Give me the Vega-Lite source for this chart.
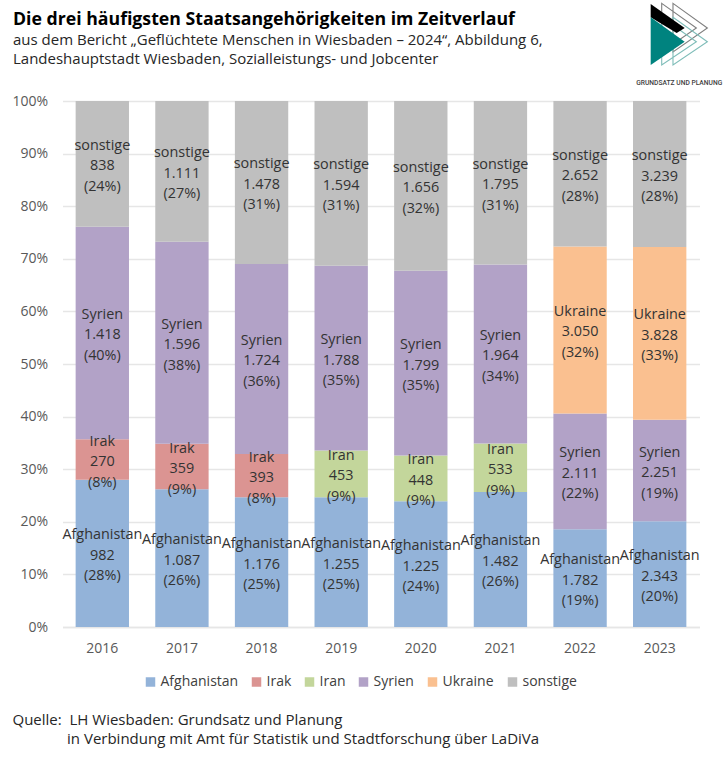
{
  "$schema": "https://vega.github.io/schema/vega-lite/v6.json",
  "description": "Die drei häufigsten Staatsangehörigkeiten im Zeitverlauf",
  "width": 637,
  "height": 526,
  "autosize": "none",
  "padding": {"left": 62.5, "top": 101, "right": 25.5, "bottom": 131},
  "background": "white",
  "config": {
    "view": {"stroke": null},
    "font": "Open Sans"
  },
  "title": {
    "text": "Die drei häufigsten Staatsangehörigkeiten im Zeitverlauf",
    "subtitle": [
      "aus dem Bericht „Geflüchtete Menschen in Wiesbaden – 2024“, Abbildung 6,",
      "Landeshauptstadt Wiesbaden, Sozialleistungs- und Jobcenter"
    ],
    "anchor": "start",
    "frame": "group",
    "dx": -49.5,
    "offset": -66,
    "font": "Open Sans",
    "fontSize": 17.7,
    "fontWeight": "bold",
    "color": "#000000",
    "subtitleFont": "Open Sans",
    "subtitleFontSize": 15,
    "subtitleColor": "#262626",
    "subtitleLineHeight": 19,
    "subtitlePadding": 4
  },
  "data": {
    "values": [
      {"jahr": "2016", "gruppe": "Afghanistan", "wert": 982, "text": "Afghanistan\n982\n(28%)"},
      {"jahr": "2016", "gruppe": "Irak", "wert": 270, "text": "Irak\n270\n(8%)"},
      {"jahr": "2016", "gruppe": "Syrien", "wert": 1418, "text": "Syrien\n1.418\n(40%)"},
      {"jahr": "2016", "gruppe": "sonstige", "wert": 838, "text": "sonstige\n838\n(24%)"},
      {"jahr": "2017", "gruppe": "Afghanistan", "wert": 1087, "text": "Afghanistan\n1.087\n(26%)"},
      {"jahr": "2017", "gruppe": "Irak", "wert": 359, "text": "Irak\n359\n(9%)"},
      {"jahr": "2017", "gruppe": "Syrien", "wert": 1596, "text": "Syrien\n1.596\n(38%)"},
      {"jahr": "2017", "gruppe": "sonstige", "wert": 1111, "text": "sonstige\n1.111\n(27%)"},
      {"jahr": "2018", "gruppe": "Afghanistan", "wert": 1176, "text": "Afghanistan\n1.176\n(25%)"},
      {"jahr": "2018", "gruppe": "Irak", "wert": 393, "text": "Irak\n393\n(8%)"},
      {"jahr": "2018", "gruppe": "Syrien", "wert": 1724, "text": "Syrien\n1.724\n(36%)"},
      {"jahr": "2018", "gruppe": "sonstige", "wert": 1478, "text": "sonstige\n1.478\n(31%)"},
      {"jahr": "2019", "gruppe": "Afghanistan", "wert": 1255, "text": "Afghanistan\n1.255\n(25%)"},
      {"jahr": "2019", "gruppe": "Iran", "wert": 453, "text": "Iran\n453\n(9%)"},
      {"jahr": "2019", "gruppe": "Syrien", "wert": 1788, "text": "Syrien\n1.788\n(35%)"},
      {"jahr": "2019", "gruppe": "sonstige", "wert": 1594, "text": "sonstige\n1.594\n(31%)"},
      {"jahr": "2020", "gruppe": "Afghanistan", "wert": 1225, "text": "Afghanistan\n1.225\n(24%)"},
      {"jahr": "2020", "gruppe": "Iran", "wert": 448, "text": "Iran\n448\n(9%)"},
      {"jahr": "2020", "gruppe": "Syrien", "wert": 1799, "text": "Syrien\n1.799\n(35%)"},
      {"jahr": "2020", "gruppe": "sonstige", "wert": 1656, "text": "sonstige\n1.656\n(32%)"},
      {"jahr": "2021", "gruppe": "Afghanistan", "wert": 1482, "text": "Afghanistan\n1.482\n(26%)"},
      {"jahr": "2021", "gruppe": "Iran", "wert": 533, "text": "Iran\n533\n(9%)"},
      {"jahr": "2021", "gruppe": "Syrien", "wert": 1964, "text": "Syrien\n1.964\n(34%)"},
      {"jahr": "2021", "gruppe": "sonstige", "wert": 1795, "text": "sonstige\n1.795\n(31%)"},
      {"jahr": "2022", "gruppe": "Afghanistan", "wert": 1782, "text": "Afghanistan\n1.782\n(19%)"},
      {"jahr": "2022", "gruppe": "Syrien", "wert": 2111, "text": "Syrien\n2.111\n(22%)"},
      {"jahr": "2022", "gruppe": "Ukraine", "wert": 3050, "text": "Ukraine\n3.050\n(32%)"},
      {"jahr": "2022", "gruppe": "sonstige", "wert": 2652, "text": "sonstige\n2.652\n(28%)"},
      {"jahr": "2023", "gruppe": "Afghanistan", "wert": 2343, "text": "Afghanistan\n2.343\n(20%)"},
      {"jahr": "2023", "gruppe": "Syrien", "wert": 2251, "text": "Syrien\n2.251\n(19%)"},
      {"jahr": "2023", "gruppe": "Ukraine", "wert": 3828, "text": "Ukraine\n3.828\n(33%)"},
      {"jahr": "2023", "gruppe": "sonstige", "wert": 3239, "text": "sonstige\n3.239\n(28%)"}
    ]
  },
  "encoding": {
    "x": {
      "field": "jahr",
      "type": "ordinal",
      "scale": {"paddingInner": 0.33, "paddingOuter": 0.165},
      "axis": {
        "labelAngle": 0,
        "labelFontSize": 14,
        "labelColor": "#595959",
        "labelPadding": 14,
        "domainColor": "#E6E6E6",
        "domainWidth": 1.5,
        "ticks": false,
        "title": [
          "Quelle:\u00a0\u00a0LH Wiesbaden: Grundsatz und Planung",
          "\u200b\u00a0\u00a0\u00a0\u00a0\u00a0\u00a0\u00a0\u00a0\u00a0\u00a0\u00a0\u00a0\u00a0\u00a0in Verbindung mit Amt für Statistik und Stadtforschung über LaDiVa"
        ],
        "titleX": -50.5,
        "titleY": 97,
        "titleAlign": "left",
        "titleAnchor": "start",
        "titleBaseline": "alphabetic",
        "titleFontSize": 15,
        "titleFontWeight": "normal",
        "titleColor": "#262626",
        "titleLineHeight": 19
      }
    }
  },
  "layer": [
    {
      "mark": {"type": "bar"},
      "encoding": {
        "y": {
          "field": "wert",
          "type": "quantitative",
          "stack": "normalize",
          "scale": {"domain": [0, 1], "nice": false},
          "axis": {
            "format": ".0%",
            "values": [0, 0.1, 0.2, 0.3, 0.4, 0.5, 0.6, 0.7, 0.8, 0.9, 1],
            "title": null,
            "domain": false,
            "ticks": false,
            "gridColor": "#E6E6E6",
            "gridWidth": 1.5,
            "labelFontSize": 14,
            "labelColor": "#595959",
            "labelPadding": 15
          }
        },
        "color": {
          "field": "gruppe",
          "type": "nominal",
          "scale": {
            "domain": ["Afghanistan", "Irak", "Iran", "Syrien", "Ukraine", "sonstige"],
            "range": ["#93B3D9", "#DB9492", "#C3D69B", "#B2A2C7", "#FAC090", "#BFBFBF"]
          },
          "legend": {
            "title": null,
            "orient": "none",
            "direction": "horizontal",
            "columns": 6,
            "legendX": 81,
            "legendY": 574,
            "symbolType": "square",
            "symbolSize": 90,
            "symbolStrokeWidth": 0,
            "labelFontSize": 14,
            "labelColor": "#404040",
            "labelOffset": 3,
            "columnPadding": 11
          }
        },
        "order": {"field": "gruppe"}
      }
    },
    {
      "mark": {"type": "text", "lineBreak": "\n", "lineHeight": 20.5, "fontSize": 14.4, "color": "#333333", "baseline": "middle", "dy": -18},
      "encoding": {
        "y": {"field": "wert", "type": "quantitative", "stack": "normalize", "bandPosition": 0.5},
        "text": {"field": "text", "type": "nominal"},
        "order": {"field": "gruppe"}
      }
    },
    {
      "data": {"values": [{}]},
      "mark": {
        "type": "point",
        "shape": "M-.545 -.945L.506 -.197L-.545 .53ZM-.203 -.945L.839 -.197L-.203 .53Z",
        "size": 4356,
        "filled": false,
        "stroke": "#7F7F7F",
        "strokeWidth": 1.1,
        "opacity": 1,
        "xOffset": 20
      },
      "encoding": {
        "x": {"datum": "2023", "type": "ordinal"},
        "y": {"datum": 1.1264, "type": "quantitative"}
      }
    },
    {
      "data": {"values": [{}]},
      "mark": {
        "type": "point",
        "shape": "M-.545 -.521L.506 .218L-.545 .924ZM-.203 -.521L.839 .218L-.203 .924Z",
        "size": 4356,
        "filled": false,
        "stroke": "#7FBDB9",
        "strokeWidth": 1.1,
        "opacity": 1,
        "xOffset": 20
      },
      "encoding": {
        "x": {"datum": "2023", "type": "ordinal"},
        "y": {"datum": 1.1264, "type": "quantitative"}
      }
    },
    {
      "data": {"values": [{}]},
      "mark": {
        "type": "point",
        "shape": "M-.879 -.924L.152 -.197L-.091 -.045L-.879 -.521Z",
        "size": 4356,
        "filled": true,
        "fill": "#000000",
        "opacity": 1,
        "xOffset": 20
      },
      "encoding": {
        "x": {"datum": "2023", "type": "ordinal"},
        "y": {"datum": 1.1264, "type": "quantitative"}
      }
    },
    {
      "data": {"values": [{}]},
      "mark": {
        "type": "point",
        "shape": "M-.879 -.521L.152 .218L-.879 .924Z",
        "size": 4356,
        "filled": true,
        "fill": "#00837F",
        "opacity": 1,
        "xOffset": 20
      },
      "encoding": {
        "x": {"datum": "2023", "type": "ordinal"},
        "y": {"datum": 1.1264, "type": "quantitative"}
      }
    },
    {
      "data": {"values": [{}]},
      "mark": {
        "type": "text",
        "font": "Roboto",
        "fontSize": 6.7,
        "fontWeight": 500,
        "color": "#404040",
        "dx": 19.5
      },
      "encoding": {
        "x": {"datum": "2023", "type": "ordinal"},
        "y": {"datum": 1.034, "type": "quantitative"},
        "text": {"value": "GRUNDSATZ UND PLANUNG"}
      }
    }
  ]
}
